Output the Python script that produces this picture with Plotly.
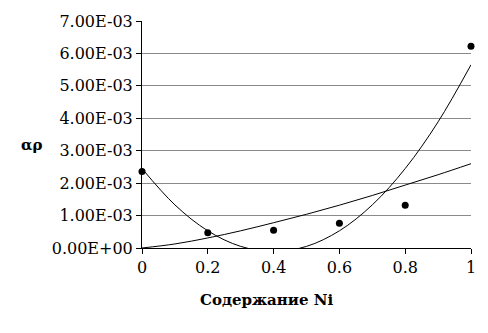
import plotly.graph_objects as go

# Measured points: alpha*rho versus Ni content
ni_content = [0.0, 0.2, 0.4, 0.6, 0.8, 1.0]
alpha_rho = [2.36e-3, 0.47e-3, 0.55e-3, 0.76e-3, 1.32e-3, 6.22e-3]

# Trend curves, sampled along the Ni axis
trend_x = [0.0, 0.1, 0.2, 0.3, 0.4, 0.5, 0.6, 0.7, 0.8, 0.9, 1.0]
power_trend = [0.0, 0.125e-3, 0.31e-3, 0.53e-3, 0.78e-3, 1.04e-3,
               1.32e-3, 1.62e-3, 1.94e-3, 2.26e-3, 2.60e-3]
poly_trend = [2.45e-3, 1.33e-3, 0.53e-3, 0.05e-3, -0.11e-3, 0.05e-3,
              0.53e-3, 1.33e-3, 2.45e-3, 3.89e-3, 5.65e-3]

# Axis ticks
y_ticks = [0.0, 1e-3, 2e-3, 3e-3, 4e-3, 5e-3, 6e-3, 7e-3]
y_tick_labels = ["0.00E+00", "1.00E-03", "2.00E-03", "3.00E-03",
                 "4.00E-03", "5.00E-03", "6.00E-03", "7.00E-03"]
x_ticks = [0.0, 0.2, 0.4, 0.6, 0.8, 1.0]
x_tick_labels = ["0", "0.2", "0.4", "0.6", "0.8", "1"]

FONT = "DejaVu Serif"

fig = go.Figure()
fig.add_trace(go.Scatter(x=trend_x, y=power_trend, mode="lines",
                         line=dict(color="black", width=1, shape="spline"),
                         hoverinfo="skip"))
fig.add_trace(go.Scatter(x=trend_x, y=poly_trend, mode="lines",
                         line=dict(color="black", width=1, shape="spline"),
                         hoverinfo="skip"))
fig.add_trace(go.Scatter(x=ni_content, y=alpha_rho, mode="markers",
                         marker=dict(color="black", size=7),
                         cliponaxis=False))

fig.update_layout(
    width=488, height=333,
    margin=dict(l=142, r=15, t=17, b=85),
    paper_bgcolor="white", plot_bgcolor="white",
    showlegend=False,
    font=dict(family=FONT, size=16, color="black"),
    xaxis=dict(range=[0, 1], tickvals=x_ticks, ticktext=x_tick_labels,
               showgrid=False, zeroline=False, showline=True,
               linecolor="black", linewidth=1,
               ticks="outside", ticklen=5, tickcolor="black",
               tickfont=dict(family=FONT, size=16)),
    yaxis=dict(range=[0, 7e-3], tickvals=y_ticks, ticktext=y_tick_labels,
               showgrid=True, gridcolor="#8a8a8a", gridwidth=1,
               zeroline=False, showline=True,
               linecolor="black", linewidth=1,
               ticks="outside", ticklen=5, tickcolor="black",
               tickfont=dict(family=FONT, size=16)),
    annotations=[
        dict(text="<b>Содержание Ni</b>", xref="paper", yref="paper",
             x=0.378, y=-0.23, xanchor="center", yanchor="middle",
             showarrow=False, font=dict(family=FONT, size=15)),
        dict(text="<b>αρ</b>", xref="paper", yref="paper",
             x=-0.335, y=0.455, xanchor="center", yanchor="middle",
             showarrow=False, font=dict(family=FONT, size=15)),
    ],
)

fig.write_html("out.html")
